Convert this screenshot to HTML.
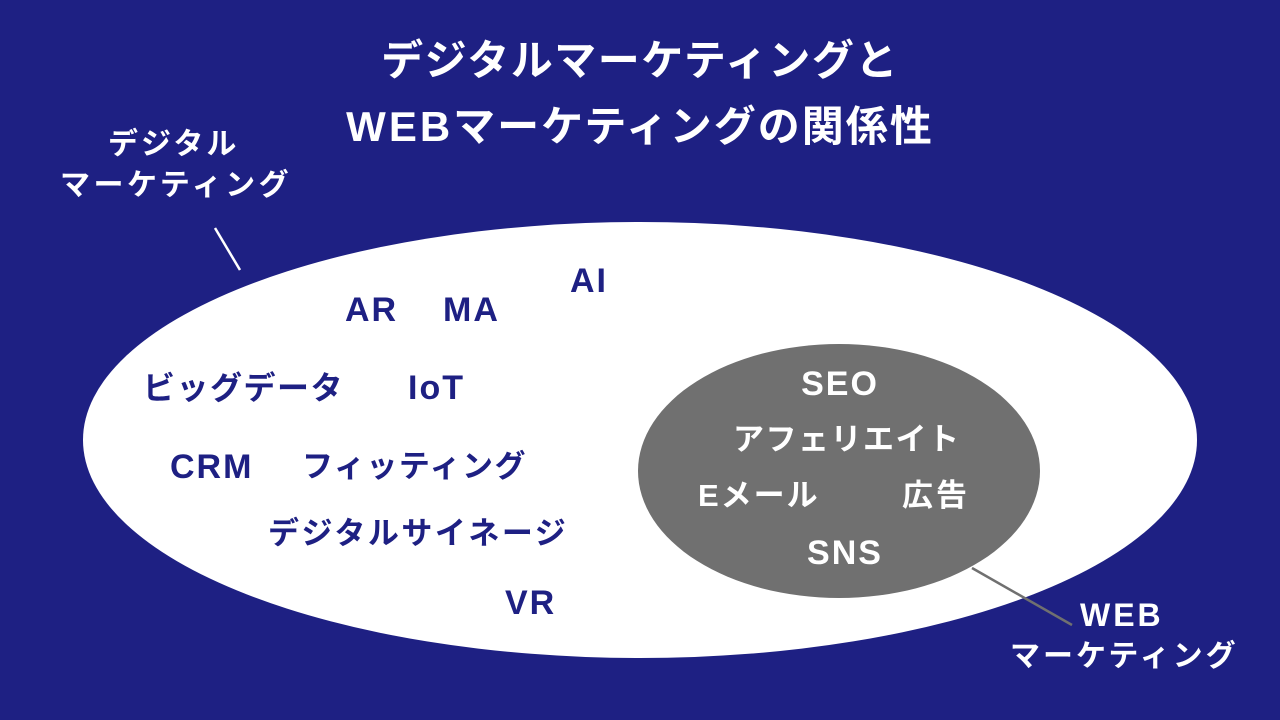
<!DOCTYPE html>
<html><head><meta charset="utf-8"><style>
body{margin:0;width:1280px;height:720px;background:#1e2083;position:relative;overflow:hidden;font-family:"Liberation Sans","Noto Sans CJK JP",sans-serif;font-weight:bold}
.t{position:absolute;line-height:1;white-space:nowrap}
.w{color:#fff}.n{color:#1e2083}
.l{letter-spacing:2px;font-size:34px !important}
</style></head><body>
<svg width="1280" height="720" style="position:absolute;left:0;top:0">
<ellipse cx="640" cy="440" rx="557" ry="218" fill="#fff"/>
<ellipse cx="839" cy="471" rx="201" ry="127" fill="#707070"/>
<line x1="215" y1="228" x2="240" y2="270" stroke="#fff" stroke-width="2.5"/>
<line x1="972" y1="568" x2="1072" y2="625" stroke="#707070" stroke-width="2.5"/>
</svg>
<div class="t w" style="left:0;width:1280px;text-align:center;top:40px;font-size:42px;letter-spacing:1.5px">デジタルマーケティングと</div>
<div class="t w" style="left:0;width:1280px;text-align:center;top:106px;font-size:42px;letter-spacing:2px"><span style="letter-spacing:3px">WEB</span>マーケティングの関係性</div>
<div class="t w" style="left:108px;top:130px;font-size:30px;letter-spacing:3px">デジタル</div>
<div class="t w" style="left:60px;top:171px;font-size:30px;letter-spacing:3.5px">マーケティング</div>
<div class="t w" style="left:1080px;top:599px;font-size:32px;letter-spacing:3px">WEB</div>
<div class="t w" style="left:1010px;top:642px;font-size:30px;letter-spacing:3px">マーケティング</div>
<div class="t n l" style="left:345px;top:293px">AR</div>
<div class="t n l" style="left:443px;top:293px">MA</div>
<div class="t n l" style="left:570px;top:264px">AI</div>
<div class="t n" style="left:143px;top:372px;font-size:32px;letter-spacing:1.5px">ビッグデータ</div>
<div class="t n l" style="left:408px;top:371px">IoT</div>
<div class="t n l" style="left:170px;top:450px">CRM</div>
<div class="t n" style="left:302px;top:451px;font-size:31px;letter-spacing:1.5px">フィッティング</div>
<div class="t n" style="left:268px;top:518px;font-size:31px;letter-spacing:2.5px">デジタルサイネージ</div>
<div class="t n l" style="left:505px;top:586px">VR</div>
<div class="t w l" style="left:740px;width:200px;text-align:center;top:367px">SEO</div>
<div class="t w" style="left:733px;top:424px;font-size:31px;letter-spacing:1.5px">アフェリエイト</div>
<div class="t w" style="left:698px;top:480px;font-size:31px;letter-spacing:2px">Eメール</div>
<div class="t w" style="left:902px;top:480px;font-size:31px;letter-spacing:3px">広告</div>
<div class="t w l" style="left:745px;width:200px;text-align:center;top:536px">SNS</div>
</body></html>
